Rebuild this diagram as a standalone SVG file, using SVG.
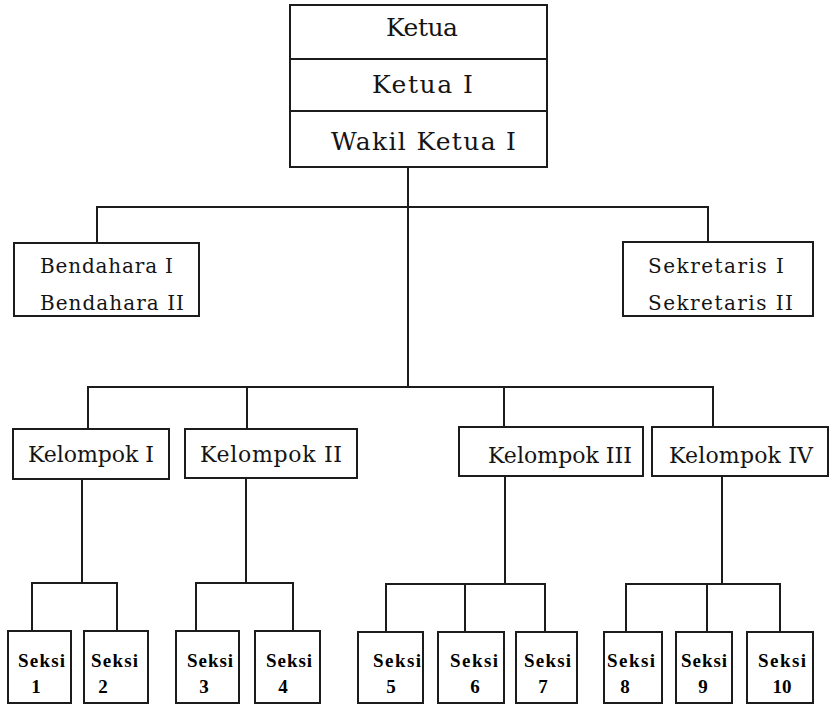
<svg xmlns="http://www.w3.org/2000/svg" width="833" height="705" viewBox="0 0 833 705">
  <style>
    .box { fill: #ffffff; stroke: #1c1c1c; stroke-width: 2; }
    .wire { fill: none; stroke: #1c1c1c; stroke-width: 2; }
    .t { font-family: "DejaVu Serif", "Liberation Serif", serif; fill: #141414; }
    .big { font-size: 25px; }
    .mid { font-size: 20px; }
    .kel { font-size: 22px; }
    .sek { font-family: "Liberation Serif", "DejaVu Serif", serif; font-size: 19px; font-weight: bold; }
  </style>
  <rect width="833" height="705" fill="#ffffff"/>

  <!-- connectors -->
  <g id="connectors" class="wire">
    <path d="M408 167 V387"/>
    <path d="M97 243 V207 H708 V242"/>
    <path d="M88 429 V387 H713 V427"/>
    <path d="M247 387 V429"/>
    <path d="M504 387 V427"/>
    <path d="M82 479 V583"/>
    <path d="M32 631 V583 H117 V631"/>
    <path d="M246 478 V583"/>
    <path d="M196 631 V583 H293 V631"/>
    <path d="M505 476 V584"/>
    <path d="M386 632 V584 H545 V632"/>
    <path d="M465 584 V632"/>
    <path d="M722 476 V584"/>
    <path d="M626 632 V584 H780 V632"/>
    <path d="M707 584 V632"/>
  </g>

  <!-- leadership -->
  <g id="ketua">
    <rect class="box" x="290" y="5" width="257" height="162"/>
    <line class="wire" x1="290" y1="59" x2="547" y2="59"/>
    <line class="wire" x1="290" y1="111" x2="547" y2="111"/>
    <text class="t big" x="386" y="36" textLength="72">Ketua</text>
    <text class="t big" x="372" y="93" textLength="101">Ketua  I</text>
    <text class="t big" x="331" y="150" textLength="185">Wakil  Ketua  I</text>
  </g>

  <g id="bendahara">
    <rect class="box" x="14" y="243" width="185" height="73"/>
    <text class="t mid" x="40" y="273" textLength="133">Bendahara  I</text>
    <text class="t mid" x="40" y="310" textLength="144">Bendahara  II</text>
  </g>

  <g id="sekretaris">
    <rect class="box" x="623" y="242" width="190" height="74"/>
    <text class="t mid" x="648" y="273" textLength="136">Sekretaris   I</text>
    <text class="t mid" x="648" y="310" textLength="145">Sekretaris   II</text>
  </g>

  <!-- groups -->
  <g id="kelompok-1">
    <rect class="box" x="13" y="429" width="156" height="50"/>
    <text class="t kel" x="28" y="462" textLength="126">Kelompok I</text>
  </g>
  <g id="kelompok-2">
    <rect class="box" x="185" y="429" width="172" height="49"/>
    <text class="t kel" x="200" y="462" textLength="142">Kelompok  II</text>
  </g>
  <g id="kelompok-3">
    <rect class="box" x="459" y="427" width="184" height="49"/>
    <text class="t kel" x="488" y="463" textLength="144">Kelompok III</text>
  </g>
  <g id="kelompok-4">
    <rect class="box" x="652" y="427" width="176" height="49"/>
    <text class="t kel" x="669" y="463" textLength="144">Kelompok IV</text>
  </g>

  <!-- sections -->
  <g id="seksi-1">
    <rect class="box" x="8" y="631" width="63" height="72"/>
    <text class="sek" x="18" y="667" textLength="47">Seksi</text>
    <text class="sek" x="36" y="693" text-anchor="middle">1</text>
  </g>
  <g id="seksi-2">
    <rect class="box" x="84" y="631" width="64" height="72"/>
    <text class="sek" x="91" y="667" textLength="47">Seksi</text>
    <text class="sek" x="103" y="693" text-anchor="middle">2</text>
  </g>
  <g id="seksi-3">
    <rect class="box" x="176" y="631" width="63" height="72"/>
    <text class="sek" x="187" y="667" textLength="46">Seksi</text>
    <text class="sek" x="204" y="693" text-anchor="middle">3</text>
  </g>
  <g id="seksi-4">
    <rect class="box" x="255" y="631" width="65" height="72"/>
    <text class="sek" x="266" y="667" textLength="46">Seksi</text>
    <text class="sek" x="283" y="693" text-anchor="middle">4</text>
  </g>
  <g id="seksi-5">
    <rect class="box" x="358" y="632" width="65" height="71"/>
    <text class="sek" x="373" y="667" textLength="48">Seksi</text>
    <text class="sek" x="391" y="693" text-anchor="middle">5</text>
  </g>
  <g id="seksi-6">
    <rect class="box" x="438" y="632" width="66" height="71"/>
    <text class="sek" x="450" y="667" textLength="48">Seksi</text>
    <text class="sek" x="475" y="693" text-anchor="middle">6</text>
  </g>
  <g id="seksi-7">
    <rect class="box" x="516" y="632" width="61" height="71"/>
    <text class="sek" x="524" y="667" textLength="47">Seksi</text>
    <text class="sek" x="543" y="693" text-anchor="middle">7</text>
  </g>
  <g id="seksi-8">
    <rect class="box" x="604" y="632" width="58" height="71"/>
    <text class="sek" x="607" y="667" textLength="48">Seksi</text>
    <text class="sek" x="625" y="693" text-anchor="middle">8</text>
  </g>
  <g id="seksi-9">
    <rect class="box" x="676" y="632" width="56" height="71"/>
    <text class="sek" x="681" y="667" textLength="46">Seksi</text>
    <text class="sek" x="703" y="693" text-anchor="middle">9</text>
  </g>
  <g id="seksi-10">
    <rect class="box" x="747" y="632" width="66" height="71"/>
    <text class="sek" x="758" y="667" textLength="48">Seksi</text>
    <text class="sek" x="782" y="693" text-anchor="middle">10</text>
  </g>
</svg>
